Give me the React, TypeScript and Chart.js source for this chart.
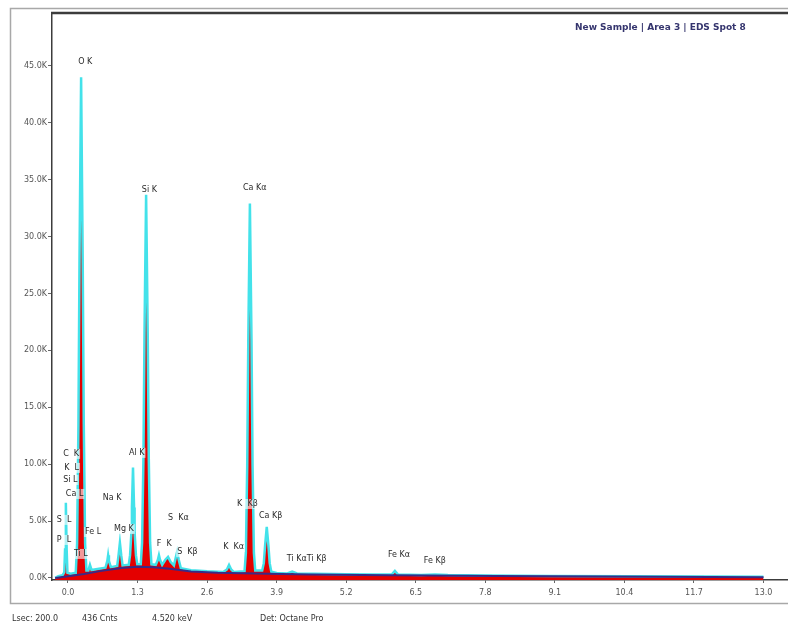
import React, { useEffect, useRef } from "react";
import { Chart, registerables } from "chart.js";
Chart.register(...registerables);

// ---- data (energies in keV as shown on the axis, counts) ----
const xTickValues = [0.0, 1.3, 2.6, 3.9, 5.2, 6.5, 7.8, 9.1, 10.4, 11.7, 13.0];
const yTickValues = [0, 5000, 10000, 15000, 20000, 25000, 30000, 35000, 40000, 45000];

const spectrumEnergy = [
  -0.24, -0.18, -0.1, -0.07, -0.055, -0.04, -0.025, -0.01, 0.05, 0.145,
  0.17, 0.195, 0.215, 0.245, 0.275, 0.295, 0.32, 0.345, 0.38, 0.41,
  0.44, 0.55, 0.7, 0.735, 0.75, 0.765, 0.8, 0.92, 0.945, 0.97,
  0.995, 1.02, 1.135, 1.16, 1.185, 1.195, 1.215, 1.235, 1.245, 1.27,
  1.295, 1.36, 1.385, 1.41, 1.43, 1.46, 1.49, 1.51, 1.535, 1.56,
  1.64, 1.68, 1.7, 1.72, 1.76, 1.82, 1.87, 1.92, 1.98, 2.01,
  2.04, 2.07, 2.11, 2.3, 2.6, 2.9, 2.97, 3.01, 3.05, 3.1,
  3.3, 3.325, 3.35, 3.37, 3.4, 3.43, 3.45, 3.475, 3.5, 3.63,
  3.66, 3.685, 3.715, 3.745, 3.77, 3.8, 3.9, 4.1, 4.19, 4.28,
  4.6, 5.2, 5.7, 6.05, 6.11, 6.17, 6.6, 6.86, 7.1, 7.8,
  9.0, 10.5, 12.0, 13.0,
];
const spectrumCounts = [
  0, 150, 250, 500, 2500, 6600, 2500, 450, 380, 450,
  3000, 13500, 28000, 44000, 28000, 13500, 3000, 650, 650, 1150,
  700, 780, 900, 1500, 2000, 1500, 950, 1050, 2000, 3100,
  2000, 1100, 1150, 2000, 4000, 6200, 9700, 6200, 4000, 2000,
  1200, 1200, 3100, 10500, 21600, 33700, 21600, 10500, 3100, 1200,
  1150, 1600, 2000, 1600, 1150, 1600, 1850, 1400, 1100, 1700,
  2300, 1600, 850, 680, 580, 520, 750, 1150, 750, 520,
  600, 2200, 9900, 21000, 32900, 21000, 9900, 2200, 650, 650,
  1300, 2900, 4500, 2900, 1300, 550, 430, 400, 560, 390,
  360, 320, 300, 300, 620, 300, 260, 300, 250, 210,
  180, 150, 120, 100,
];

const backgroundEnergy = [-0.24, 0.0, 0.3, 0.6, 1.0, 1.3, 1.6, 1.9, 2.3, 2.8, 3.5, 4.5, 6.0, 8.0, 10.0, 13.0];
const backgroundCounts = [0, 150, 350, 600, 880, 980, 940, 800, 570, 460, 390, 300, 235, 165, 125, 70];

const peakLabelText = [
  "O K", "Si K", "Ca Kα", "Al K", "C  K", "K  L", "Si L", "Ca L", "Na K", "S  L", "Fe L", "Mg K",
  "P  L", "Ti L", "S  Kα", "F  K", "S  Kβ", "K  Kα", "K  Kβ", "Ca Kβ", "Ti KαTi Kβ", "Fe Kα", "Fe Kβ",
];
const peakLabelEnergy = [
  0.19, 1.38, 3.27, 1.14, -0.09, -0.07, -0.09, -0.04, 0.65, -0.21, 0.32, 0.86,
  -0.21, 0.11, 1.87, 1.66, 2.04, 2.9, 3.16, 3.57, 4.09, 5.98, 6.65,
];
const peakLabelCounts = [
  45360, 34100, 34280, 10990, 10900, 9670, 8610, 7380, 7030, 5100, 4040, 4310,
  3340, 2110, 5270, 2990, 2290, 2720, 6500, 5450, 1670, 2020, 1490,
];

const titleText = "New Sample | Area 3 | EDS Spot 8";
const footerText = ["Lsec: 200.0", "436 Cnts", "4.520 keV", "Det: Octane Pro"];

const spectrumData = spectrumEnergy.map((x, i) => ({ x, y: spectrumCounts[i] }));
const backgroundData = backgroundEnergy.map((x, i) => ({ x, y: backgroundCounts[i] }));

const decorPlugin = {
  id: "decor",
  beforeDraw(chart: any) {
    const ctx = chart.ctx;
    ctx.save();
    ctx.fillStyle = "#ffffff";
    ctx.fillRect(0, 0, chart.width, chart.height);
    ctx.restore();
  },
  afterDatasetsDraw(chart: any) {
    const ctx = chart.ctx;
    const xs = chart.scales.x;
    const ys = chart.scales.y;
    ctx.save();
    ctx.font = '8px "DejaVu Sans"';
    ctx.textBaseline = "middle";
    ctx.textAlign = "left";
    peakLabelText.forEach((t, i) => {
      const px = xs.getPixelForValue(peakLabelEnergy[i]);
      const py = ys.getPixelForValue(peakLabelCounts[i]);
      const w = ctx.measureText(t).width;
      ctx.fillStyle = "rgba(255,255,255,0.6)";
      ctx.fillRect(px - 1, py - 5, w + 2, 10);
      ctx.fillStyle = "#2a2a2a";
      ctx.fillText(t, px, py);
    });
    ctx.restore();
  },
  afterDraw(chart: any) {
    const ctx = chart.ctx;
    const { left, top, right } = chart.chartArea;
    ctx.save();
    // outer panel frame
    ctx.strokeStyle = "#a8a8a8";
    ctx.lineWidth = 1.5;
    ctx.strokeRect(10.5, 8.5, 800, 595);
    // heavy top edge of plot box
    ctx.strokeStyle = "#3c3c3c";
    ctx.lineWidth = 2.5;
    ctx.beginPath();
    ctx.moveTo(left - 1, top);
    ctx.lineTo(right + 2, top);
    ctx.stroke();
    // title
    ctx.fillStyle = "#35356e";
    ctx.font = 'bold 9px "DejaVu Sans"';
    ctx.textBaseline = "middle";
    ctx.textAlign = "left";
    ctx.fillText(titleText, 575, 28);
    // footer
    ctx.fillStyle = "#333333";
    ctx.font = '8px "DejaVu Sans"';
    const fx = [12, 82, 152, 260];
    footerText.forEach((t, i) => ctx.fillText(t, fx[i], 619));
    ctx.restore();
  },
};

export default function App() {
  const ref = useRef<HTMLCanvasElement | null>(null);
  useEffect(() => {
    if (!ref.current) return;
    const chart = new Chart(ref.current, {
      type: "line",
      data: {
        datasets: [
          {
            label: "Background",
            data: backgroundData,
            borderColor: "#3a2a86",
            borderWidth: 2,
            pointRadius: 0,
            fill: false,
            tension: 0,
          },
          {
            label: "Spectrum",
            data: spectrumData,
            borderColor: "#43e2ea",
            backgroundColor: "#e40000",
            borderWidth: 2.5,
            pointRadius: 0,
            fill: "start",
            tension: 0,
          },
        ],
      },
      options: {
        responsive: false,
        devicePixelRatio: 1,
        animation: false,
        layout: { padding: { top: 13, left: 0, right: 0, bottom: 0 } },
        plugins: { legend: { display: false }, tooltip: { enabled: false } },
        scales: {
          x: {
            type: "linear",
            min: -0.299,
            max: 13.458,
            afterBuildTicks: (s: any) => {
              s.ticks = xTickValues.map((v) => ({ value: v }));
            },
            afterFit: (s: any) => {
              s.height = 47;
            },
            ticks: {
              autoSkip: false,
              maxRotation: 0,
              padding: 5,
              color: "#555",
              font: { family: "DejaVu Sans", size: 8 },
              callback: (v: any) => Number(v).toFixed(1),
            },
            grid: { drawOnChartArea: false, drawTicks: true, tickLength: 3, color: "#666" },
            border: { display: true, color: "#3c3c3c", width: 1.5 },
          },
          y: {
            type: "linear",
            min: -180,
            max: 49640,
            afterBuildTicks: (s: any) => {
              s.ticks = yTickValues.map((v) => ({ value: v }));
            },
            afterFit: (s: any) => {
              s.width = 52;
            },
            ticks: {
              autoSkip: false,
              padding: 1,
              color: "#555",
              font: { family: "DejaVu Sans", size: 8 },
              callback: (v: any) => (Number(v) / 1000).toFixed(1) + "K",
            },
            grid: { drawOnChartArea: false, drawTicks: true, tickLength: 4, color: "#666" },
            border: { display: true, color: "#3c3c3c", width: 1.5 },
          },
        },
      },
      plugins: [decorPlugin],
    } as any);
    return () => chart.destroy();
  }, []);
  return (
    <div style={{ position: "absolute", left: 0, top: 0, width: 788, height: 627, background: "#fff" }}>
      <canvas ref={ref} width={788} height={627} style={{ display: "block" }} />
    </div>
  );
}
